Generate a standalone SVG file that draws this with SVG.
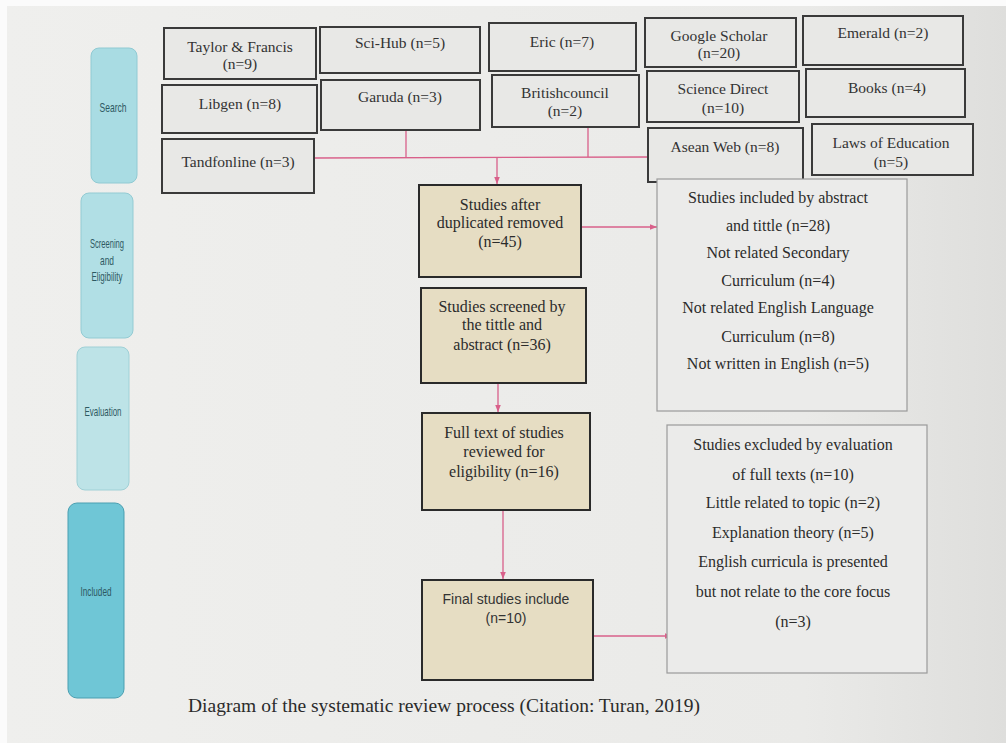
<svg xmlns="http://www.w3.org/2000/svg" width="1006" height="743" viewBox="0 0 1006 743">
<defs>
<linearGradient id="bg" x1="0" y1="0" x2="1" y2="0">
<stop offset="0" stop-color="#efefed"/>
<stop offset="0.8" stop-color="#eaeae8"/>
<stop offset="1" stop-color="#dededc"/>
</linearGradient>
<marker id="arr" viewBox="0 0 10 10" refX="10" refY="5" markerWidth="9" markerHeight="7" markerUnits="userSpaceOnUse" orient="auto">
<path d="M0,1 L10,5 L0,9 Z" fill="#d9608a"/>
</marker>
</defs>
<style>
.src{fill:#e8e8e6;stroke:#3a3a3a;stroke-width:2}
.mid{fill:#e6ddc3;stroke:#2a2a2a;stroke-width:2}
.out{fill:#ebebea;stroke:#9a9a9a;stroke-width:1.2}
.stage{stroke-width:1}
.t{font-family:"Liberation Serif","Times New Roman",serif;font-size:15.5px;fill:#333;text-anchor:middle}
.tm{font-family:"Liberation Serif","Times New Roman",serif;font-size:16px;fill:#2b2b2b;text-anchor:middle}
.ts{font-family:"Liberation Sans",Arial,sans-serif;font-size:14px;fill:#333;text-anchor:middle}
.tl{font-family:"Liberation Sans",Arial,sans-serif;font-size:13px;fill:#2e5962;text-anchor:middle}
.cap{font-family:"Liberation Serif","Times New Roman",serif;font-size:19px;fill:#2b2b2b}
.con{fill:none;stroke:#d9608a;stroke-width:1.3}
</style>
<rect x="0" y="0" width="1006" height="743" fill="url(#bg)"/>
<rect x="0" y="0" width="1006" height="6" fill="#fbfbfb"/>
<rect x="0" y="0" width="7" height="743" fill="#fbfbfb"/>

<g id="stage-search"><rect class="stage" x="91" y="48" width="46" height="135" rx="8" fill="#a9dce3" stroke="#90cad3"/><text class="tl" x="113" y="112" textLength="27" lengthAdjust="spacingAndGlyphs">Search</text></g>
<g id="stage-screening"><rect class="stage" x="81" y="193" width="52" height="145" rx="8" fill="#b1dfe5" stroke="#93cbd3"/><text class="tl" x="107" y="248" textLength="34" lengthAdjust="spacingAndGlyphs">Screening</text><text class="tl" x="107" y="265" textLength="14" lengthAdjust="spacingAndGlyphs">and</text><text class="tl" x="107" y="281" textLength="31" lengthAdjust="spacingAndGlyphs">Eligibility</text></g>
<g id="stage-evaluation"><rect class="stage" x="77" y="347" width="52" height="143" rx="8" fill="#bde3e7" stroke="#9fd0d6"/><text class="tl" x="103" y="416" textLength="37" lengthAdjust="spacingAndGlyphs">Evaluation</text></g>
<g id="stage-included"><rect class="stage" x="68" y="503" width="56" height="195" rx="9" fill="#6fc6d6" stroke="#4a9fb1"/><text class="tl" x="96" y="596" textLength="31" lengthAdjust="spacingAndGlyphs" fill="#244c55">Included</text></g>

<g id="connectors">
<line class="con" x1="314" y1="158" x2="648" y2="157"/>
<line class="con" x1="406" y1="130" x2="406" y2="158"/>
<line class="con" x1="588" y1="127" x2="588" y2="157"/>
<line class="con" x1="497" y1="157" x2="497" y2="184" marker-end="url(#arr)"/>
<line class="con" x1="581" y1="227" x2="657" y2="227" marker-end="url(#arr)"/>
<line class="con" x1="498" y1="383" x2="498" y2="412" marker-end="url(#arr)"/>
<line class="con" x1="503" y1="510" x2="503" y2="579" marker-end="url(#arr)"/>
<line class="con" x1="593" y1="636" x2="672" y2="636" marker-end="url(#arr)"/>
</g>

<g id="src-taylor"><rect class="src" x="164" y="28" width="152" height="51"/><text class="t" x="240" y="52">Taylor &amp; Francis</text><text class="t" x="240" y="69">(n=9)</text></g>
<g id="src-scihub"><rect class="src" x="320" y="27" width="160" height="46"/><text class="t" x="400" y="48">Sci-Hub (n=5)</text></g>
<g id="src-eric"><rect class="src" x="489" y="23" width="147" height="48"/><text class="t" x="562" y="47">Eric (n=7)</text></g>
<g id="src-google"><rect class="src" x="645" y="18" width="151" height="49"/><text class="t" x="719" y="41">Google Scholar</text><text class="t" x="719" y="58">(n=20)</text></g>
<g id="src-emerald"><rect class="src" x="803" y="16" width="160" height="49"/><text class="t" x="883" y="38">Emerald (n=2)</text></g>

<g id="src-libgen"><rect class="src" x="162" y="85" width="155" height="48"/><text class="t" x="240" y="109">Libgen (n=8)</text></g>
<g id="src-garuda"><rect class="src" x="321" y="80" width="159" height="50"/><text class="t" x="400" y="102">Garuda (n=3)</text></g>
<g id="src-british"><rect class="src" x="492" y="75" width="147" height="52"/><text class="t" x="565" y="98">Britishcouncil</text><text class="t" x="565" y="116">(n=2)</text></g>
<g id="src-science"><rect class="src" x="647" y="71" width="152" height="51"/><text class="t" x="723" y="94">Science Direct</text><text class="t" x="723" y="113">(n=10)</text></g>
<g id="src-books"><rect class="src" x="806" y="69" width="159" height="48"/><text class="t" x="887" y="93">Books (n=4)</text></g>

<g id="src-tandf"><rect class="src" x="162" y="139" width="152" height="54"/><text class="t" x="238" y="167">Tandfonline (n=3)</text></g>
<g id="src-asean"><rect class="src" x="648" y="128" width="155" height="54"/><text class="t" x="725" y="152">Asean Web (n=8)</text></g>
<g id="src-laws"><rect class="src" x="812" y="124" width="161" height="51"/><text class="t" x="891" y="148">Laws of Education</text><text class="t" x="891" y="167">(n=5)</text></g>

<g id="n-duplicates"><rect class="mid" x="419" y="185" width="162" height="92"/><text class="tm" x="500" y="210">Studies after</text><text class="tm" x="500" y="228">duplicated removed</text><text class="tm" x="500" y="247">(n=45)</text></g>
<g id="n-screened"><rect class="mid" x="421" y="288" width="165" height="95"/><text class="tm" x="502" y="312">Studies screened by</text><text class="tm" x="502" y="330">the tittle and</text><text class="tm" x="502" y="350">abstract (n=36)</text></g>
<g id="n-fulltext"><rect class="mid" x="422" y="413" width="168" height="97"/><text class="tm" x="504" y="438">Full text of studies</text><text class="tm" x="504" y="457">reviewed for</text><text class="tm" x="504" y="477">eligibility (n=16)</text></g>
<g id="n-final"><rect class="mid" x="422" y="580" width="171" height="100"/><text class="ts" x="506" y="604">Final studies include</text><text class="ts" x="506" y="623">(n=10)</text></g>

<g id="n-included"><rect class="out" x="657" y="179" width="250" height="232"/>
<text class="tm" x="778" y="203">Studies included by abstract</text>
<text class="tm" x="778" y="231">and tittle (n=28)</text>
<text class="tm" x="778" y="258">Not related Secondary</text>
<text class="tm" x="778" y="286">Curriculum (n=4)</text>
<text class="tm" x="778" y="313">Not related English Language</text>
<text class="tm" x="778" y="342">Curriculum (n=8)</text>
<text class="tm" x="778" y="369">Not written in English (n=5)</text>
</g>
<g id="n-excluded"><rect class="out" x="667" y="425" width="260" height="248"/>
<text class="tm" x="793" y="450">Studies excluded by evaluation</text>
<text class="tm" x="793" y="480">of full texts (n=10)</text>
<text class="tm" x="793" y="508">Little related to topic (n=2)</text>
<text class="tm" x="793" y="538">Explanation theory (n=5)</text>
<text class="tm" x="793" y="567">English curricula is presented</text>
<text class="tm" x="793" y="597">but not relate to the core focus</text>
<text class="tm" x="793" y="627">(n=3)</text>
</g>

<text class="cap" x="188" y="712" textLength="512" lengthAdjust="spacingAndGlyphs">Diagram of the systematic review process (Citation: Turan, 2019)</text>
</svg>
